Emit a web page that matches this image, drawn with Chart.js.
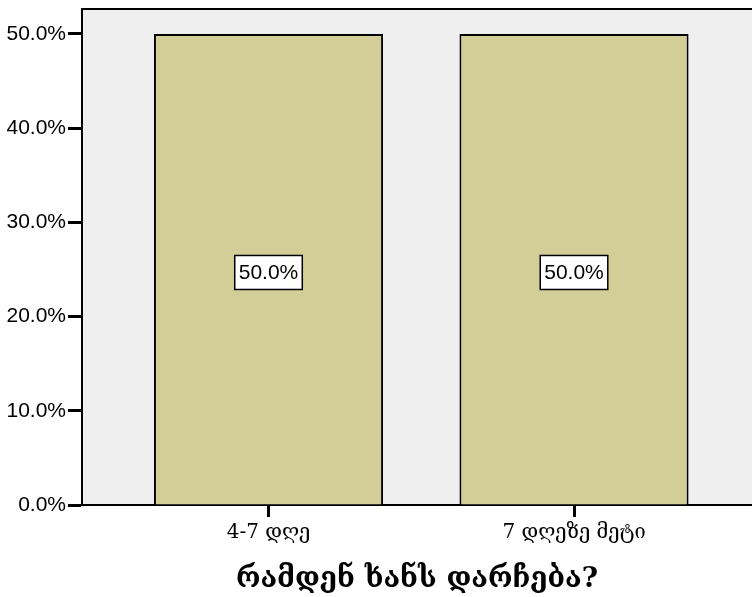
<!DOCTYPE html>
<html>
<head>
<meta charset="utf-8">
<script src="https://cdn.jsdelivr.net/npm/chart.js@4"></script>
<style>
  html, body { margin: 0; padding: 0; background: #fff; overflow: hidden; }
  #wrap { width: 752px; height: 597px; }
</style>
</head>
<body>
<div id="wrap"><canvas id="myChart" width="752" height="597"></canvas></div>
<script>
// categories and their percentages
var categories = ['4-7 დღე', '7 დღეზე მეტი'];
var percents = [50.0, 50.0];
var yTicks = [0, 10, 20, 30, 40, 50];
var xTitle = 'რამდენ ხანს დარჩება?';

// grey plot background + box on top
var plotBg = {
    id: 'plotBg',
    beforeDraw: function(chart) {
        var a = chart.chartArea, c = chart.ctx;
        c.save();
        c.fillStyle = '#efefef';
        c.fillRect(a.left, a.top, a.right - a.left, a.bottom - a.top);
        c.restore();
    },
    afterDraw: function(chart) {
        var a = chart.chartArea, c = chart.ctx;
        c.save();
        c.strokeStyle = '#000';
        c.lineWidth = 2;
        c.beginPath();
        c.moveTo(a.left, a.bottom);
        c.lineTo(a.left, a.top);
        c.lineTo(a.right + 2, a.top);
        c.stroke();
        c.restore();
    }
};

// boxed value labels in the middle of each bar
var boxLabels = {
    id: 'boxLabels',
    afterDatasetsDraw: function(chart) {
        var c = chart.ctx;
        var meta = chart.getDatasetMeta(0);
        c.save();
        c.font = '21px "Liberation Sans", Arial, sans-serif';
        c.textAlign = 'center';
        c.textBaseline = 'middle';
        meta.data.forEach(function(bar, i) {
            var txt = percents[i].toFixed(1) + '%';
            var y = chart.scales.y.getPixelForValue(percents[i] / 2);
            var w = c.measureText(txt).width + 8;
            var h = 34;
            c.fillStyle = '#fff';
            c.fillRect(bar.x - w / 2, y - h / 2 + 3, w, h);
            c.strokeStyle = '#000';
            c.lineWidth = 1.5;
            c.strokeRect(bar.x - w / 2, y - h / 2 + 3, w, h);
            c.fillStyle = '#000';
            c.fillText(txt, bar.x, y + 4);
        });
        c.restore();
    }
};

var ctx = document.getElementById('myChart').getContext('2d');
var myChart = new Chart(ctx, {
    type: 'bar',
    data: {
        datasets: [{
            data: percents.map(function(v, i) { return { x: i, y: v }; }),
            backgroundColor: '#d3ce98',
            borderColor: '#000',
            borderWidth: 2,
            barPercentage: 0.75,
            categoryPercentage: 1.0
        }]
    },
    options: {
        responsive: false,
        animation: false,
        layout: { padding: { top: 9, right: 0, left: 0, bottom: 0 } },
        plugins: {
            legend: { display: false },
            tooltip: { enabled: false }
        },
        scales: {
            x: {
                type: 'linear',
                offset: false,
                min: -0.6105,
                max: 1.5826,
                afterBuildTicks: function(axis) {
                    axis.ticks = categories.map(function(c, i) { return { value: i }; });
                },
                afterFit: function(axis) {
                    axis.height = 92;
                    axis.paddingLeft = 0;
                    axis.paddingRight = 0;
                },
                grid: {
                    offset: false,
                    drawOnChartArea: false,
                    drawTicks: true,
                    tickLength: 12,
                    tickColor: '#000',
                    tickWidth: 3
                },
                border: { color: '#000', width: 2 },
                ticks: {
                    color: '#000',
                    font: { family: '"DejaVu Serif", "Liberation Serif", serif', size: 20 },
                    padding: 4,
                    maxRotation: 0,
                    autoSkip: false,
                    callback: function(value) { return categories[value]; }
                },
                title: {
                    display: true,
                    text: xTitle,
                    color: '#000',
                    font: { family: '"DejaVu Serif", serif', size: 28, weight: 'bold' },
                    padding: { top: 10, bottom: 0 }
                }
            },
            y: {
                min: 0,
                max: 52.65,
                afterBuildTicks: function(axis) {
                    axis.ticks = yTicks.map(function(v) { return { value: v }; });
                },
                afterFit: function(axis) {
                    axis.width = 82;
                    axis.paddingTop = 0;
                    axis.paddingBottom = 0;
                },
                grid: {
                    drawOnChartArea: false,
                    drawTicks: true,
                    tickLength: 14,
                    tickColor: '#000',
                    tickWidth: 3
                },
                border: { color: '#000', width: 2 },
                ticks: {
                    color: '#000',
                    font: { family: '"Liberation Sans", Arial, sans-serif', size: 21 },
                    padding: 2,
                    callback: function(value) { return value.toFixed(1) + '%'; }
                }
            }
        }
    },
    plugins: [plotBg, boxLabels]
});
</script>
</body>
</html>
